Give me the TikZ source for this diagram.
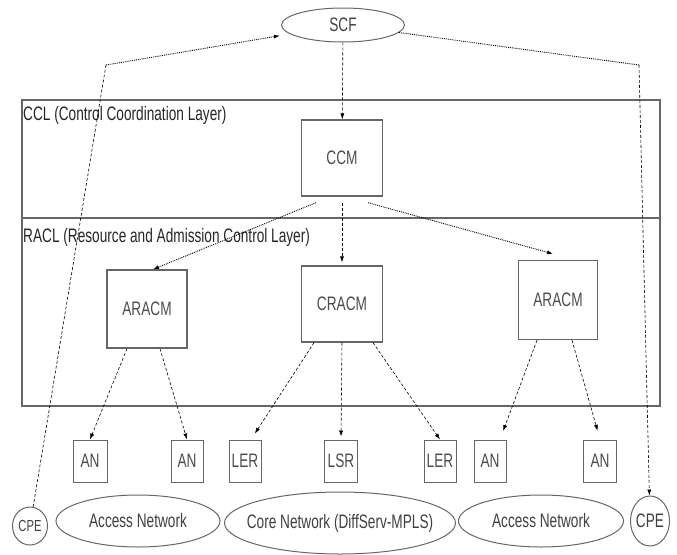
\documentclass[tikz,border=0pt]{standalone}
\usepackage{fontspec}
\setmainfont{Liberation Sans}[FakeStretch=0.7]
\usepackage{tikz}
\usetikzlibrary{shapes.geometric,arrows.meta}

\tikzset{
  box/.style={draw=black!60,line width=1.3pt,text=black!70,inner sep=0pt},
  oval/.style={draw=black!60,line width=1pt,ellipse,text=black!75,inner sep=0pt},
  layer/.style={draw=black!60,line width=1.5pt},
  dl/.style={densely dashed,line width=0.6pt,-{Latex[length=6pt,width=4pt]}},
  dt/.style={densely dotted,line width=0.9pt,-{Latex[length=6pt,width=4pt]}},
}

\begin{document}
\begin{tikzpicture}[x=1pt,y=-1pt,font=\fontsize{19.5}{22}\selectfont]
\useasboundingbox (0,0) rectangle (677,554);
% layers
\draw[layer] (22,100) rectangle (660,218);
\draw[layer] (22,218) rectangle (660,406);
\node[anchor=north west,inner sep=0pt,text=black!85] (ccl) at (23,106)
  {CCL (Control Coordination Layer)};
\node[anchor=north west,inner sep=0pt,text=black!85] (racl) at (23,228)
  {RACL (Resource and Admission Control Layer)};

\node[oval,minimum width=123,minimum height=34] (scf) at (343,25) {SCF};
\node[box,minimum width=81,minimum height=76] (ccm) at (342,158) {CCM};
\node[box,minimum width=80,minimum height=78] (aracmL) at (147,309) {ARACM};
\node[box,minimum width=81,minimum height=76] (cracm) at (342,304) {CRACM};
\node[box,minimum width=79,minimum height=79] (aracmR) at (558,300) {ARACM};

\foreach \n/\x/\w/\t in {anA/90/34/AN,anB/187/32/AN,lerA/245/32/LER,
                         lsr/341/33/LSR,lerB/440/32/LER,anC/490/32/AN,
                         anD/600/33/AN}{%
\node[box,line width=1pt,minimum width=\w,minimum height=42] (\n) at (\x,461) {\t};
}

\node[oval,minimum width=35,minimum height=38,font=\fontsize{16}{18}\selectfont]
  (cpeL) at (30,526) {CPE};
\node[oval,minimum width=164,minimum height=52] (accL) at (138,521) {Access Network};
\node[oval,minimum width=231,minimum height=62,inner xsep=-12pt] (core) at (340,523)
  {Core Network (DiffServ-MPLS)};
\node[oval,minimum width=165,minimum height=52] (accR) at (541,521) {Access Network};
\node[oval,minimum width=39,minimum height=50,inner xsep=-3pt] (cpeR) at (650,521) {CPE};

% SCF <-> CPE
\coordinate (kl) at (106,65);
\coordinate (kr) at (639,65);
\draw[densely dashed,line width=0.6pt] (cpeL) -- (kl);
\draw[dt,shorten >=10pt] (kl) -- (scf);
\draw[densely dotted,line width=0.9pt] (scf) -- (kr);
\draw[dl] (kr) -- (cpeR);

% control
\draw[dl] (scf) -- (ccm);
\draw[dt] ([xshift=-26pt,yshift=-6pt]ccm.south) -- ([xshift=6pt]aracmL.north);
\draw[dl,shorten >=3pt] ([yshift=-6pt]ccm.south) -- (cracm.north);
\draw[dt] ([xshift=26pt,yshift=-6pt]ccm.south) -- ([xshift=-5pt,yshift=6pt]aracmR.north);

% resources
\draw[dl] ([xshift=-20pt]aracmL.south) -- (anA.north);
\draw[dl] ([xshift=13pt]aracmL.south) -- (anB.north);
\draw[dl,shorten >=7pt] ([xshift=-28pt]cracm.south) -- ([xshift=6pt]lerA.north);
\draw[dl,shorten >=3pt] (cracm.south) -- (lsr.north);
\draw[dl] ([xshift=31pt]cracm.south) -- (lerB.north);
\draw[dl,shorten >=9pt] ([xshift=-21pt]aracmR.south) -- ([xshift=10pt]anC.north);
\draw[dl,shorten >=9pt] ([xshift=14pt]aracmR.south) -- (anD.north);
\end{tikzpicture}
\end{document}
